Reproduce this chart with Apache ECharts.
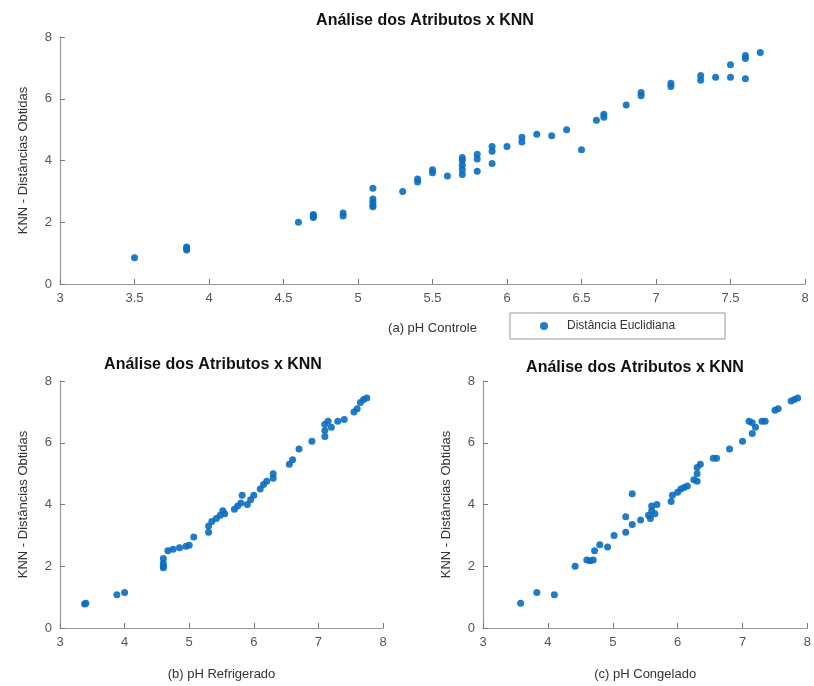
<!DOCTYPE html>
<html>
<head>
<meta charset="utf-8">
<script src="https://cdn.jsdelivr.net/npm/echarts@6/dist/echarts.min.js"></script>
<style>
html, body { margin: 0; padding: 0; background: #fff; }
#main { width: 814px; height: 686px; }
</style>
</head>
<body>
<div id="main"></div>
<script>
// (a) pH Controle
var phControle = [
    [3.5, 0.85], [3.85, 1.1], [3.85, 1.2], [3.85, 1.15],
    [4.6, 2.0], [4.7, 2.15], [4.7, 2.25], [4.7, 2.2], [4.9, 2.2], [4.9, 2.3],
    [5.1, 3.1], [5.1, 2.5], [5.1, 2.55], [5.1, 2.65], [5.1, 2.75],
    [5.3, 3.0], [5.4, 3.3], [5.4, 3.4], [5.5, 3.6], [5.5, 3.7], [5.6, 3.5],
    [5.7, 3.55], [5.7, 3.7], [5.7, 3.85], [5.7, 4.0], [5.7, 4.1],
    [5.8, 4.2], [5.8, 4.05], [5.8, 3.65], [5.9, 4.3], [5.9, 4.45], [5.9, 3.9],
    [6.0, 4.45], [6.1, 4.6], [6.1, 4.75], [6.2, 4.85], [6.3, 4.8], [6.4, 5.0],
    [6.5, 4.35], [6.6, 5.3], [6.65, 5.4], [6.65, 5.5], [6.8, 5.8],
    [6.9, 6.1], [6.9, 6.2], [7.1, 6.4], [7.1, 6.5], [7.3, 6.6], [7.3, 6.75],
    [7.4, 6.7], [7.5, 6.7], [7.5, 7.1], [7.6, 6.65], [7.6, 7.3], [7.6, 7.4],
    [7.7, 7.5]
];
// (b) pH Refrigerado
var phRefrigerado = [
    [3.4, 0.8], [3.38, 0.78], [3.88, 1.08], [4.0, 1.15],
    [4.6, 1.95], [4.6, 2.0], [4.6, 2.1], [4.6, 2.25], [4.67, 2.5],
    [4.75, 2.55], [4.85, 2.6], [4.95, 2.65], [5.0, 2.68], [5.07, 2.95],
    [5.3, 3.1], [5.3, 3.3], [5.35, 3.45], [5.42, 3.55], [5.48, 3.65], [5.52, 3.8], [5.55, 3.7],
    [5.7, 3.85], [5.75, 3.95], [5.8, 4.05], [5.82, 4.3], [5.9, 4.0], [5.95, 4.15], [6.0, 4.3],
    [6.1, 4.5], [6.15, 4.65], [6.2, 4.75], [6.3, 4.85], [6.3, 5.0],
    [6.55, 5.3], [6.6, 5.45], [6.7, 5.8], [6.9, 6.05],
    [7.1, 6.2], [7.1, 6.4], [7.1, 6.6], [7.15, 6.7], [7.2, 6.5], [7.3, 6.7], [7.4, 6.75],
    [7.55, 7.0], [7.6, 7.1], [7.65, 7.3], [7.7, 7.4], [7.75, 7.45]
];
// (c) pH Congelado
var phCongelado = [
    [3.58, 0.8], [3.83, 1.15], [4.1, 1.08], [4.42, 2.0],
    [4.6, 2.2], [4.65, 2.18], [4.7, 2.2], [4.72, 2.5], [4.8, 2.7], [4.92, 2.62],
    [5.02, 3.0], [5.2, 3.1], [5.2, 3.6], [5.3, 4.35], [5.3, 3.35], [5.43, 3.5],
    [5.55, 3.65], [5.6, 3.8], [5.6, 3.95], [5.65, 3.7], [5.68, 4.0], [5.58, 3.55],
    [5.9, 4.1], [5.92, 4.3], [6.0, 4.4], [6.05, 4.5], [6.1, 4.55], [6.15, 4.6],
    [6.25, 4.8], [6.3, 4.75], [6.3, 5.0], [6.35, 5.3], [6.3, 5.2],
    [6.55, 5.5], [6.6, 5.5], [6.8, 5.8], [7.0, 6.05],
    [7.1, 6.7], [7.15, 6.3], [7.2, 6.5], [7.15, 6.65], [7.3, 6.7], [7.35, 6.7],
    [7.5, 7.05], [7.55, 7.1], [7.75, 7.35], [7.8, 7.4], [7.85, 7.45]
];

var tituloGrafico = 'Análise dos Atributos x KNN';
var nomeEixoY = 'KNN - Distâncias Obtidas';
var nomesEixoX = ['(a) pH Controle', '(b) pH Refrigerado', '(c) pH Congelado'];
var nomeSerie = 'Distância Euclidiana';

var fonte = '"Liberation Sans", Arial, sans-serif';
var corPonto = '#0a6dbf';

// eixo x no estilo matlab
function eixoX(idx, intervalo, gap) {
    return {
        type: 'value',
        gridIndex: idx,
        min: 3,
        max: 8,
        interval: intervalo,
        name: nomesEixoX[idx],
        nameLocation: 'middle',
        nameGap: gap,
        nameTextStyle: { color: '#333', fontSize: 13, fontFamily: fonte },
        axisLine: { lineStyle: { color: '#999', width: 1.2 } },
        axisTick: { inside: true, length: 5, lineStyle: { color: '#777' } },
        axisLabel: { color: '#555', fontSize: 13, fontFamily: fonte, margin: 8 },
        splitLine: { show: false }
    };
}

function eixoY(idx) {
    return {
        type: 'value',
        gridIndex: idx,
        min: 0,
        max: 8,
        interval: 2,
        name: nomeEixoY,
        nameLocation: 'middle',
        nameGap: 30,
        nameTextStyle: { color: '#333', fontSize: 13, fontFamily: fonte },
        axisLine: { show: true, lineStyle: { color: '#999', width: 1.2 } },
        axisTick: { show: true, inside: true, length: 5, lineStyle: { color: '#777' } },
        axisLabel: { color: '#555', fontSize: 13, fontFamily: fonte, margin: 8 },
        splitLine: { show: false }
    };
}

function serie(idx, dados, nome) {
    return {
        name: nome,
        type: 'scatter',
        xAxisIndex: idx,
        yAxisIndex: idx,
        data: dados,
        symbol: 'circle',
        symbolSize: 7,
        itemStyle: { color: corPonto, opacity: 0.9 }
    };
}

var myChart = echarts.init(document.getElementById('main'));
var option = {
    backgroundColor: '#fff',
    animation: false,
    title: [
        { text: tituloGrafico, left: 420, top: 8, textAlign: 'center',
          textStyle: { fontSize: 16, fontWeight: 'bold', color: '#111', fontFamily: fonte } },
        { text: tituloGrafico, left: 208, top: 352, textAlign: 'center',
          textStyle: { fontSize: 16, fontWeight: 'bold', color: '#111', fontFamily: fonte } },
        { text: tituloGrafico, left: 630, top: 355, textAlign: 'center',
          textStyle: { fontSize: 16, fontWeight: 'bold', color: '#111', fontFamily: fonte } }
    ],
    legend: {
        data: [{ name: nomeSerie, icon: 'circle' }],
        left: 510,
        top: 313,
        itemWidth: 8,
        itemHeight: 8,
        padding: [7, 50, 7, 30],
        borderWidth: 1,
        borderColor: '#999',
        textStyle: { fontSize: 12, color: '#333', fontFamily: fonte, padding: [0, 0, 0, 14] }
    },
    grid: [
        { left: 60, right: 9, top: 37, bottom: 402 },
        { left: 60, right: 431, top: 381, bottom: 58 },
        { left: 483, right: 6, top: 381, bottom: 58 }
    ],
    xAxis: [eixoX(0, 0.5, 38), eixoX(1, 1, 40), eixoX(2, 1, 40)],
    yAxis: [eixoY(0), eixoY(1), eixoY(2)],
    series: [
        serie(0, phControle, nomeSerie),
        serie(1, phRefrigerado, 'Refrigerado'),
        serie(2, phCongelado, 'Congelado')
    ]
};
myChart.setOption(option);
</script>
</body>
</html>
